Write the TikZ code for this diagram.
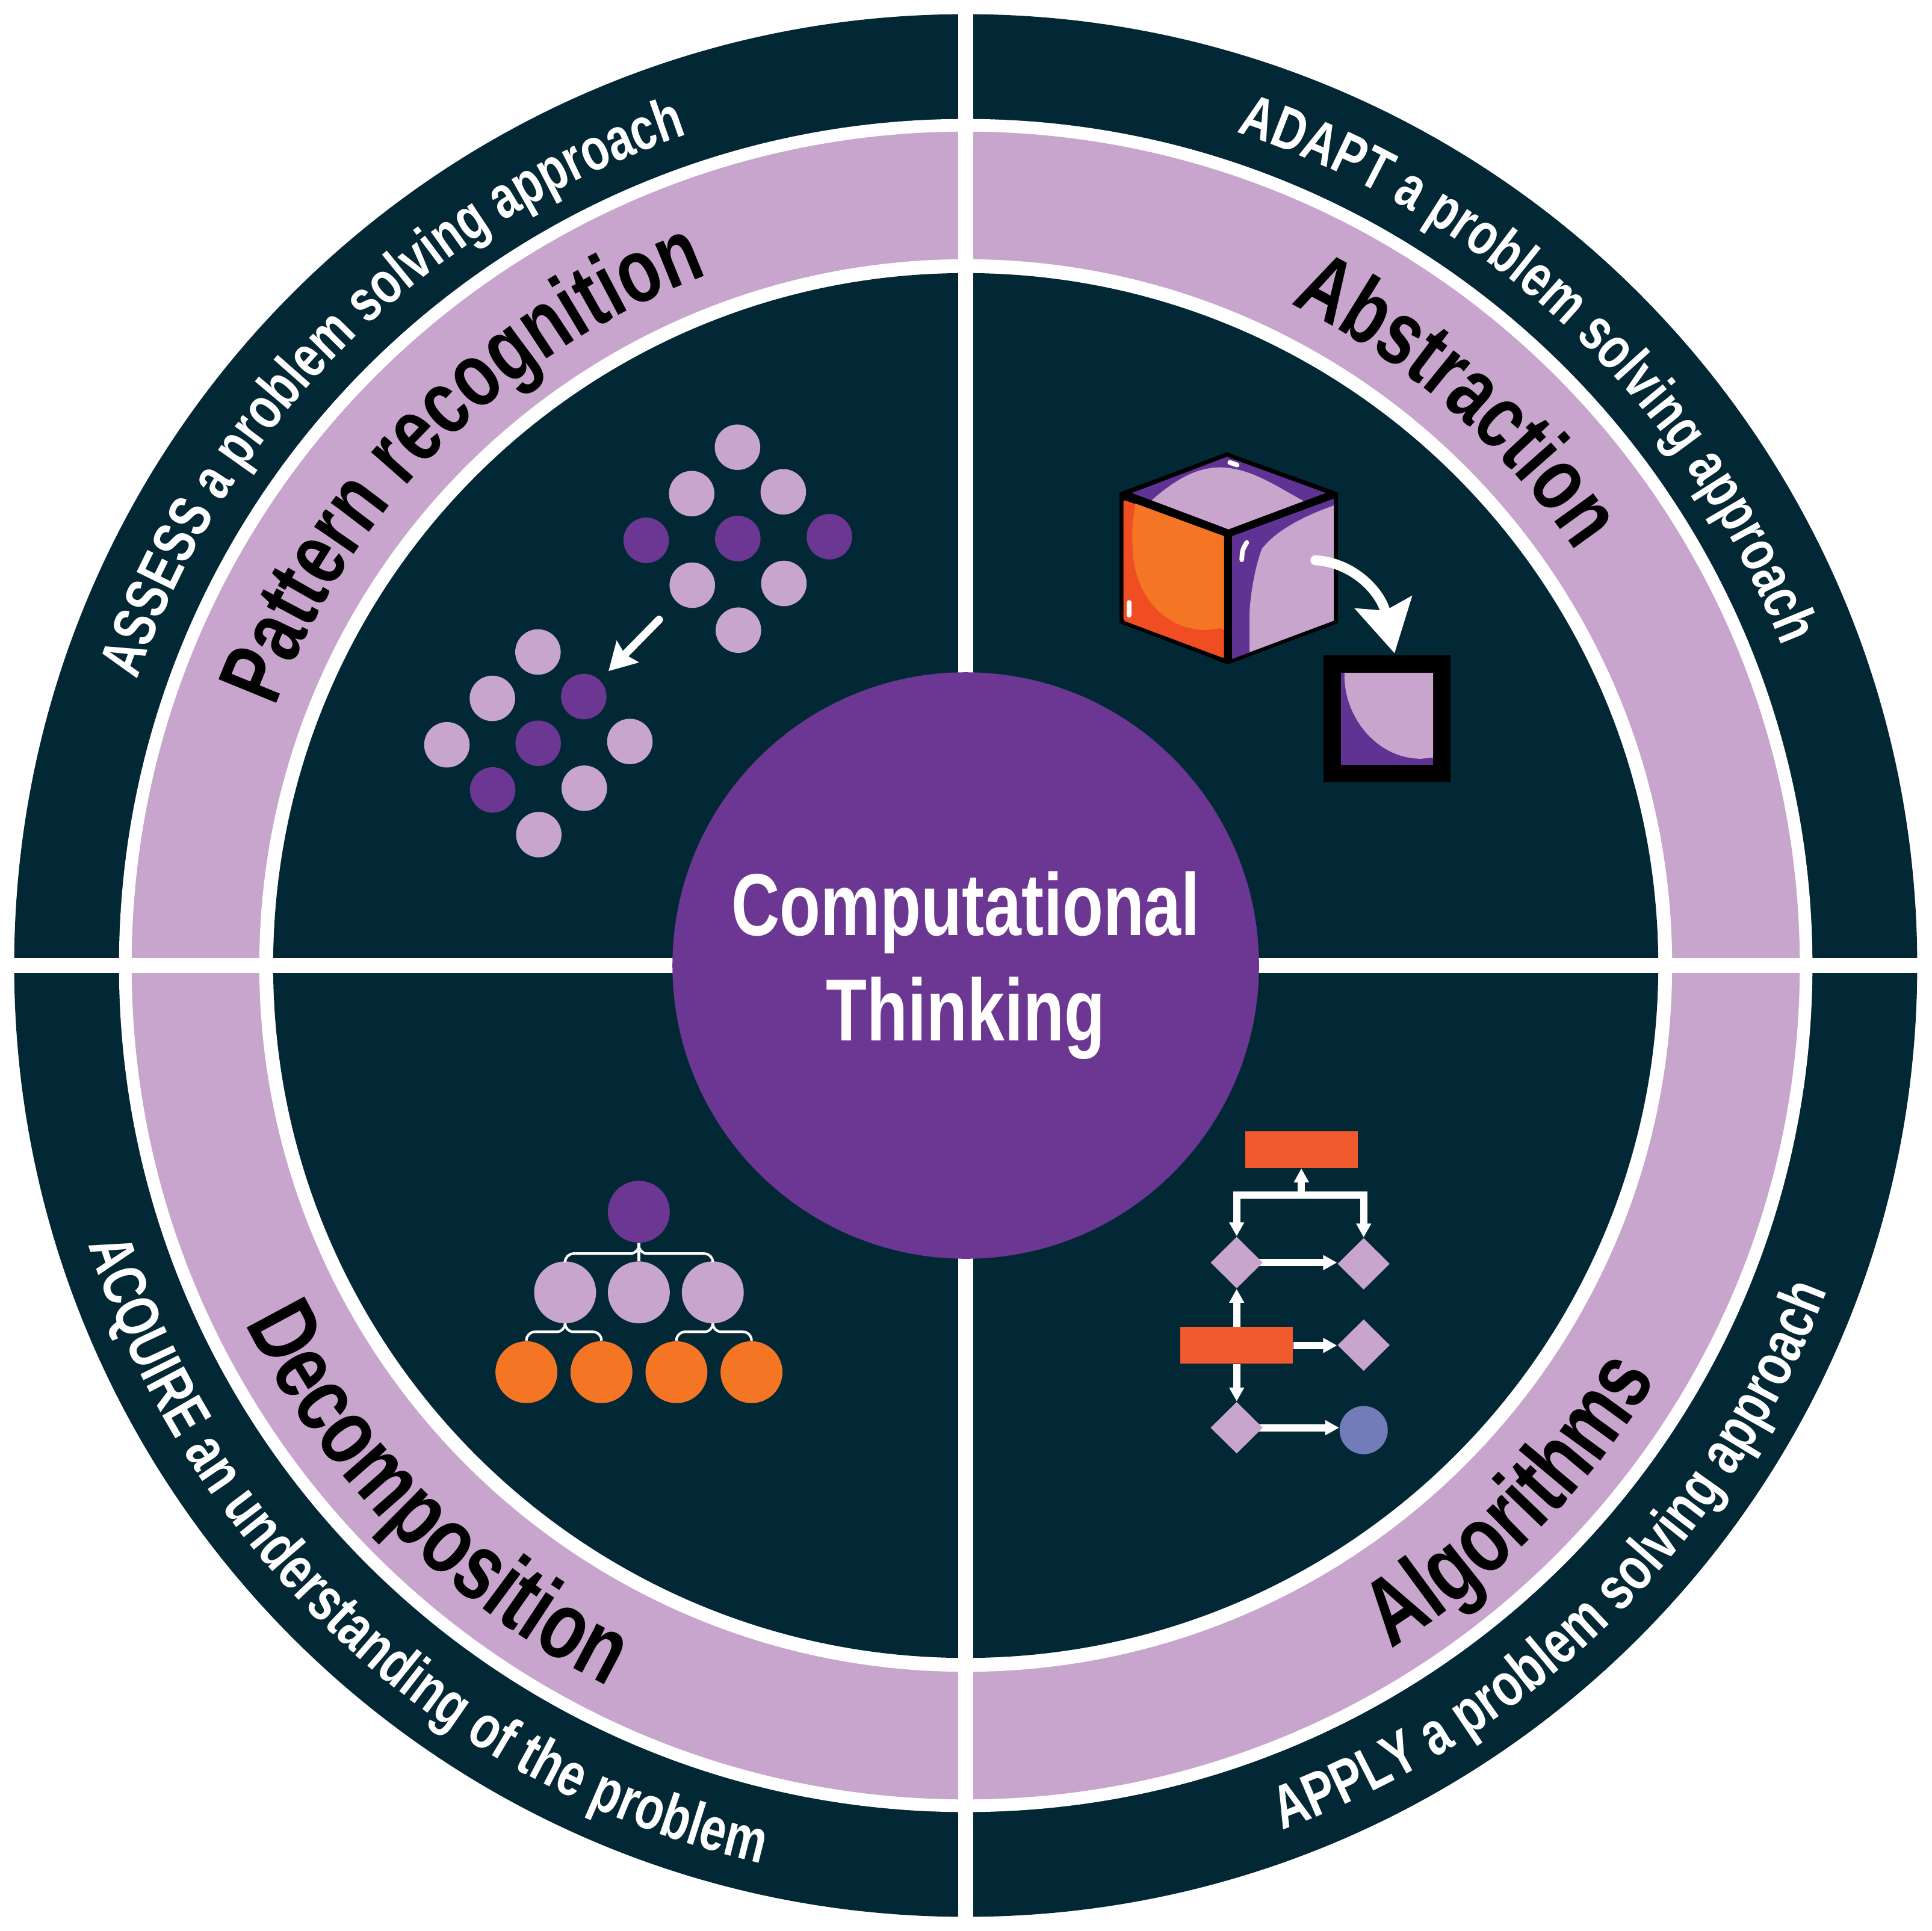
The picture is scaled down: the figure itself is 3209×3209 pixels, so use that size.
\documentclass[tikz,border=0pt]{standalone}
\usepackage{fontspec}
\usepackage{xcolor}
\usepackage{tikz}
\usetikzlibrary{arrows.meta,positioning,shapes.geometric,decorations.text}
\newfontfamily\ctfont{Liberation Sans}[FakeStretch=0.76]
\definecolor{ink}{HTML}{032835}
\definecolor{lilac}{HTML}{C8A5CD}
\definecolor{grape}{HTML}{6C3792}
\definecolor{grapedeep}{HTML}{5F3393}
\definecolor{ember}{HTML}{F04D23}
\definecolor{tangerine}{HTML}{F47524}
\definecolor{coral}{HTML}{F15A2D}
\definecolor{iris}{HTML}{727CB8}
\newcommand{\ringtext}{\ctfont\bfseries\fontsize{28.2}{28.2}\selectfont\color{white}}
\newcommand{\lowringtext}{\ctfont\bfseries\fontsize{29}{29}\selectfont\color{white}}
\newcommand{\bandtext}{\ctfont\bfseries\fontsize{42.8}{42.8}\selectfont\color{black}}
\newcommand{\lowbandtext}{\ctfont\bfseries\fontsize{45}{45}\selectfont\color{black}}
\pgfdeclarelayer{front}
\pgfsetlayers{main,front}
\tikzset{
  disc/.style={circle,inner sep=0pt,draw=none},
  spot/.style={disc,minimum size=7.55mm},
  treedot/.style={disc,minimum size=10.28mm},
  lightspot/.style={spot,fill=lilac},
  darkspot/.style={spot,fill=grape},
  flowbox/.style={rectangle,inner sep=0pt,fill=coral,minimum width=18.7mm,minimum height=6.1mm},
  flowgate/.style={diamond,inner sep=0pt,fill=lilac,minimum width=8.7mm,minimum height=8.6mm},
  flowend/.style={disc,fill=iris,minimum size=8mm},
  flowto/.style={-{Triangle[length=2.3mm,width=2.35mm]},line width=1.2mm,draw=white},
  treelink/.style={line width=0.42mm,draw=white,rounded corners=1.4mm},
  sweep/.style={line cap=round,draw=white},
  glint/.style={line width=0.78mm,line cap=round,draw=white}
}
\begin{document}
\begin{tikzpicture}[x=0.01cm,y=-0.01cm]
\useasboundingbox (0,0) rectangle (3209,3209);
\coordinate (mid) at (1604.5,1604.5);
\node[disc,fill=ink,minimum size=316mm] (rim) at (mid) {};
\node[disc,fill=white,minimum size=281.2mm] (rimgap) at (mid) {};
\node[disc,fill=lilac,minimum size=277mm] (band) at (mid) {};
\node[disc,fill=white,minimum size=234.6mm] (bandgap) at (mid) {};
\node[disc,fill=ink,minimum size=230mm] (field) at (mid) {};
\fill[white] (1592,0) rectangle (1617,3209);
\fill[white] (0,1592) rectangle (3209,1617);
\node[disc,fill=grape,minimum size=97.4mm,align=center,text=white,font=\ctfont\bfseries\fontsize{41.6}{49.5}\selectfont] (hub) at (mid) {Computational\\Thinking};

\begin{scope}[shift={(mid)},x=0.01cm,y=0.01cm]
\path[decorate,decoration={text along path,text align=center,text={|\ringtext|ASSESS a problem solving approach}}] (165:1456) arc[start angle=165,end angle=104.5,radius=1456];
\path[decorate,decoration={text along path,text align=center,text={|\ringtext|ADAPT a problem solving approach}}] (76.7:1456) arc[start angle=76.7,end angle=16.7,radius=1456];
\path[decorate,decoration={text along path,text align=center,text={|\lowringtext|APPLY a problem solving approach}}] (-75.3:1530) arc[start angle=-75.3,end angle=-15.3,radius=1530];
\path[decorate,decoration={text along path,text align=center,text={|\lowringtext|ACQUIRE an understanding of the problem}}] (-167.6:1530) arc[start angle=-167.6,end angle=-97.6,radius=1530];
\path[decorate,decoration={text along path,text align=center,text={|\bandtext|Pattern recognition}}] (165:1225) arc[start angle=165,end angle=105,radius=1225];
\path[decorate,decoration={text along path,text align=center,text={|\bandtext|Abstraction}}] (79:1225) arc[start angle=79,end angle=19,radius=1225];
\path[decorate,decoration={text along path,text align=center,text={|\lowbandtext|Algorithms}}] (-74.5:1337) arc[start angle=-74.5,end angle=-14.5,radius=1337];
\path[decorate,decoration={text along path,text align=center,text={|\lowbandtext|Decomposition}}] (-165:1337) arc[start angle=-165,end angle=-105,radius=1337];
\end{scope}

\node[lightspot] (upa) at (1225.3,743.2) {};
\node[lightspot] (upb) at (1149.2,820.3) {};
\node[lightspot] (upc) at (1301.4,817.3) {};
\node[darkspot] (upd) at (1073.6,897.9) {};
\node[darkspot] (upe) at (1225.8,894.9) {};
\node[darkspot] (upf) at (1378,891.9) {};
\node[lightspot] (upg) at (1150.2,972.5) {};
\node[lightspot] (uph) at (1302.4,969.6) {};
\node[lightspot] (upi) at (1226.8,1047.2) {};
\node[lightspot] (loa) at (893.8,1083.5) {};
\node[lightspot] (lob) at (818.1,1160.6) {};
\node[darkspot] (loc) at (969.9,1157.6) {};
\node[lightspot] (lod) at (742.5,1237.7) {};
\node[darkspot] (loe) at (894.2,1235.2) {};
\node[lightspot] (lof) at (1046.5,1232.2) {};
\node[darkspot] (log) at (818.6,1312.8) {};
\node[lightspot] (loh) at (970.8,1309.9) {};
\node[lightspot] (loi) at (895.2,1387) {};
\coordinate (spotfrom) at (1095,1029.8);
\coordinate (spotto) at (1011,1115.3);
\draw[sweep,line width=1.3mm,-{Stealth[length=4.5mm,width=5mm,inset=0.6mm]}] (spotfrom) -- (spotto);

\fill[black] (2038.5,751.8) -- (2223.2,818.4) -- (2223.2,1035.5) -- (2040.2,1104.1) -- (1860.2,1035.5) -- (1860.2,818.4) -- cycle;
\fill[grapedeep] (2038.5,759.2) -- (2202.8,819.2) -- (2041.1,879.6) -- (1880.6,819.2) -- cycle;
\fill[lilac] (1913.6,831.4) .. controls (1953.5,795.9) and (1988.2,777.6) .. (2025,776.7) .. controls (2061.9,776.7) and (2092.2,791.8) .. (2122.6,808.2) -- (2165.9,832.7) -- (2041.1,879.6) -- cycle;
\fill[ember,rounded corners=0.3mm] (1866.7,830.6) -- (2033.7,891) -- (2033.7,1093.9) -- (1866.7,1031.4) -- cycle;
\fill[tangerine] (1886.2,836.7) -- (2033.7,891) -- (2033.7,1046.9) -- (2027.2,1044.1) -- (2005.5,1046.9) .. controls (1931.8,1046.9) and (1884.1,985.7) .. (1881.9,912.2) .. controls (1879.7,879.6) and (1883,860) .. (1886.2,836.7) -- cycle;
\fill[grapedeep] (2047.1,891) -- (2216.2,828.6) -- (2216.2,1031.4) -- (2047.1,1095.1) -- cycle;
\fill[lilac] (2216.2,840) .. controls (2161.6,859.2) and (2118.2,883.7) .. (2096.6,912.2) .. controls (2083.6,944.9) and (2074.9,1006.1) .. (2076.2,1026.5) -- (2076.2,1083.7) -- (2216.2,1031.4) -- cycle;
\draw[glint] (1876.3,1001.2) -- (1876.3,1022.4);
\draw[glint] (2043.2,768.6) -- (2055.4,772.7);
\draw[glint] (2071.4,901.6) .. controls (2064,914.3) .. (2063.2,930.2);
\fill[black] (2198.5,1089) rectangle (2410.1,1300);
\fill[grapedeep] (2228,1118) rectangle (2381,1270.6);
\fill[lilac] (2234,1118) .. controls (2231,1189.8) and (2287.4,1261.2) .. (2361,1260.8) -- (2381,1259.2) -- (2381,1118) -- cycle;
\coordinate (facefrom) at (2185.5,931);
\coordinate (faceto) at (2317,1085.7);
\draw[sweep,line width=1.65mm,-{Stealth[length=8.6mm,width=9.5mm,inset=1.35mm]}] (facefrom) .. controls (2250,935) and (2295,985) .. (faceto);

\node[treedot,fill=grape] (tra) at (1061.4,2013.7) {};
\node[treedot,fill=lilac] (trb) at (938.9,2147.7) {};
\node[treedot,fill=lilac] (trc) at (1061.4,2147.7) {};
\node[treedot,fill=lilac] (trd) at (1184.3,2147.7) {};
\node[treedot,fill=tangerine] (tre) at (874.6,2280.3) {};
\node[treedot,fill=tangerine] (trf) at (999.3,2280.3) {};
\node[treedot,fill=tangerine] (trg) at (1123.9,2280.3) {};
\node[treedot,fill=tangerine] (trh) at (1248.6,2280.3) {};
\coordinate (forka) at (1061.4,2083.3);
\coordinate (forkb) at (938.9,2213.3);
\coordinate (forkc) at (1184.3,2213.3);
\draw[treelink] (tra.south) -- (forka) -- (forka -| trb.north) -- (trb.north);
\draw[treelink] (tra.south) -- (forka) -- (forka -| trd.north) -- (trd.north);
\draw[treelink] (tra.south) -- (trc.north);
\draw[treelink] (trb.south) -- (forkb) -- (forkb -| tre.north) -- (tre.north);
\draw[treelink] (trb.south) -- (forkb) -- (forkb -| trf.north) -- (trf.north);
\draw[treelink] (trd.south) -- (forkc) -- (forkc -| trg.north) -- (trg.north);
\draw[treelink] (trd.south) -- (forkc) -- (forkc -| trh.north) -- (trh.north);

\begin{pgfonlayer}{front}
\node[flowbox] (boxa) at (2162.2,1910.5) {};
\node[flowbox] (boxb) at (2054.7,2235.9) {};
\node[flowgate] (gatea) at (2054.7,2098.2) {};
\node[flowgate] (gateb) at (2265.7,2100.2) {};
\node[flowgate] (gatec) at (2265.7,2235.4) {};
\node[flowgate] (gated) at (2054.7,2372.6) {};
\node[flowend] (stop) at (2265.7,2376.6) {};
\end{pgfonlayer}
\coordinate (split) at (2162.2,1986.3);
\draw[flowto] (split) -- (boxa.south);
\draw[flowto] (split) -| (gatea.north);
\draw[flowto] (split) -| (gateb.north);
\draw[flowto] (boxb.north) -- (gatea.south);
\draw[flowto] (boxb.south) -- (gated.north);
\draw[flowto] (boxb.east) -- (boxb.east -| gatec.west);
\draw[flowto] (gatea.center) -- (gatea.center -| gateb.west);
\draw[flowto] (gated.center) -- (gated.center -| stop.west);
\end{tikzpicture}
\end{document}
